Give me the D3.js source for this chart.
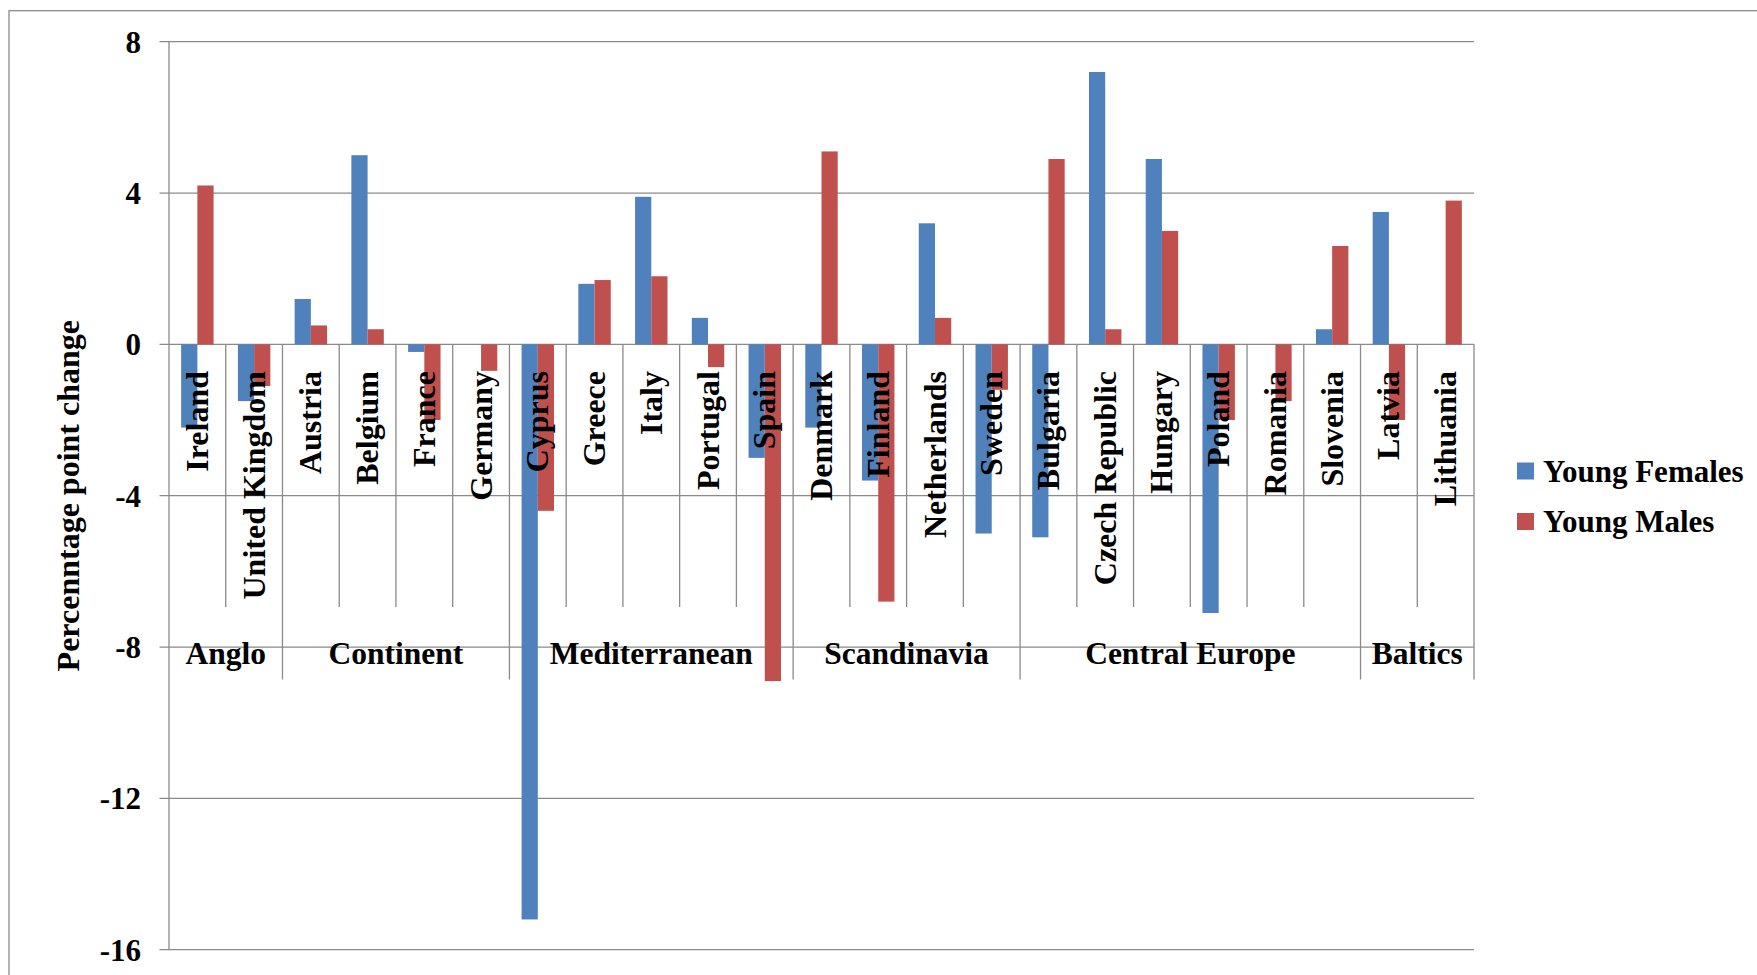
<!DOCTYPE html>
<html>
<head>
<meta charset="utf-8">
<script src="https://cdn.jsdelivr.net/npm/d3@7"></script>
<style>
  html, body { margin: 0; padding: 0; background: #fff; }
  svg { display: block; }
  text { font-family: "Liberation Serif", "Times New Roman", serif; font-weight: bold; fill: #000; }
</style>
</head>
<body>
<svg id="chart" width="1757" height="975"></svg>
<script>
// Countries in plotting order, with the regional group each belongs to
const countries = [
  "Ireland", "United Kingdom",
  "Austria", "Belgium", "France", "Germany",
  "Cyprus", "Greece", "Italy", "Portugal", "Spain",
  "Denmark", "Finland", "Netherlands", "Sweden",
  "Bulgaria", "Czech Republic", "Hungary", "Poland", "Romania", "Slovenia",
  "Latvia", "Lithuania"
];
const groups = ["Anglo", "Continent", "Mediterranean", "Scandinavia", "Central Europe", "Baltics"];
const groupSizes = [2, 4, 5, 4, 6, 2];

// Percentage point change per country
const youngFemales = [
  -2.2, -1.5,
  1.2, 5.0, -0.2, 0,
  -15.2, 1.6, 3.9, 0.7, -3.0,
  -2.2, -3.6, 3.2, -5.0,
  -5.1, 7.2, 4.9, -7.1, 0, 0.4,
  3.5, 0
];
const youngMales = [
  4.2, -1.1,
  0.5, 0.4, -2.0, -0.7,
  -4.4, 1.7, 1.8, -0.6, -8.9,
  5.1, -6.8, 0.7, -1.2,
  4.9, 0.4, 3.0, -2.0, -1.5, 2.6,
  -2.0, 3.8
];
const seriesNames = ["Young Females", "Young Males"];
const seriesColors = ["#4F81BD", "#C0504D"];
const yTicks = [-16, -12, -8, -4, 0, 4, 8];

const svg = d3.select("#chart");
const gridColor = "#8a8a8a";

// Outer chart frame
svg.append("rect")
  .attr("x", 9).attr("y", 10.7)
  .attr("width", 1900).attr("height", 1000)
  .attr("fill", "none").attr("stroke", gridColor).attr("stroke-width", 1.3);

const plotLeft = 169, plotRight = 1474;
const x = d3.scaleBand().domain(countries).range([plotLeft, plotRight]).paddingInner(0).paddingOuter(0);
const xs = d3.scaleBand().domain(seriesNames).range([0, x.bandwidth()]).paddingInner(0).paddingOuter(0.75);
const y = d3.scaleLinear().domain([-16, 8]).range([949.7, 41.7]);

// Horizontal gridlines and y axis
const yAxis = d3.axisLeft(y).tickValues(yTicks).tickSize(0).tickPadding(28).tickFormat(d => String(d));
const yg = svg.append("g").attr("transform", `translate(${plotLeft},0)`).call(yAxis);
yg.select(".domain").remove();
yg.selectAll(".tick text").attr("font-size", 31).attr("dy", "0.34em")
  .style("font-family", "'Liberation Serif', 'Times New Roman', serif").style("font-weight", "bold");
svg.append("g").selectAll("line").data(yTicks).join("line")
  .attr("x1", plotLeft - 9.5).attr("x2", plotRight)
  .attr("y1", d => y(d)).attr("y2", d => y(d))
  .attr("stroke", gridColor).attr("stroke-width", 1.3);
svg.append("line")
  .attr("x1", plotLeft).attr("x2", plotLeft)
  .attr("y1", y(8)).attr("y2", y(-16))
  .attr("stroke", gridColor).attr("stroke-width", 1.3);

// Bars
const rows = countries.map((c, i) => ({ country: c, values: [youngFemales[i], youngMales[i]] }));
const barG = svg.append("g");
rows.forEach(r => {
  r.values.forEach((v, j) => {
    if (v === 0) return;
    barG.append("rect")
      .attr("x", x(r.country) + xs(seriesNames[j]))
      .attr("width", xs.bandwidth())
      .attr("y", Math.min(y(v), y(0)))
      .attr("height", Math.abs(y(v) - y(0)))
      .attr("fill", seriesColors[j]);
  });
});

// Category separators below the zero line
const groupEnds = d3.cumsum(groupSizes);
const sepG = svg.append("g");
d3.range(1, countries.length + 1).forEach(k => {
  const xx = plotLeft + k * x.step();
  const isGroup = groupEnds.includes(k);
  sepG.append("line")
    .attr("x1", xx).attr("x2", xx)
    .attr("y1", y(0)).attr("y2", isGroup ? 679.5 : 607)
    .attr("stroke", gridColor).attr("stroke-width", 1.3);
});

// Country labels, rotated
svg.append("g").selectAll("text").data(countries).join("text")
  .attr("transform", d => `translate(${x(d) + x.bandwidth() / 2},371) rotate(-90)`)
  .attr("text-anchor", "end")
  .attr("dy", "0.33em")
  .attr("font-size", 32)
  .text(d => d);

// Group labels
const groupStarts = [0, ...groupEnds.slice(0, -1)];
svg.append("g").selectAll("text").data(groups).join("text")
  .attr("x", (d, i) => plotLeft + (groupStarts[i] + groupSizes[i] / 2) * x.step())
  .attr("y", 664)
  .attr("text-anchor", "middle")
  .attr("font-size", 31.5)
  .text(d => d);

// Y axis title
svg.append("text")
  .attr("transform", `translate(79,${(y(8) + y(-16)) / 2}) rotate(-90)`)
  .attr("text-anchor", "middle")
  .attr("font-size", 32)
  .text("Percenntage point change");

// Legend
const legend = svg.append("g");
seriesNames.forEach((name, i) => {
  const cy = 471 + i * 50.5;
  legend.append("rect")
    .attr("x", 1517).attr("y", cy - 8.5)
    .attr("width", 17).attr("height", 17)
    .attr("fill", seriesColors[i]);
  legend.append("text")
    .attr("x", 1543).attr("y", cy)
    .attr("dy", "0.34em")
    .attr("font-size", 31)
    .text(name);
});
</script>
</body>
</html>
